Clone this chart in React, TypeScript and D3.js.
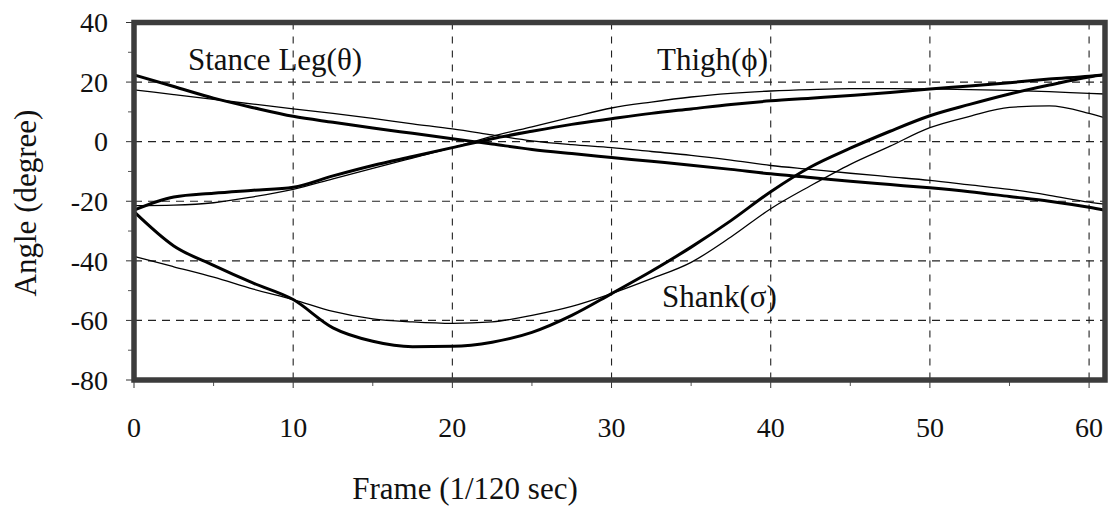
import React from 'react';
import * as d3 from 'd3';

// frame numbers (1/120 sec)
const frames = [0, 2.5, 5, 7.5, 10, 12.5, 15, 17.5, 20, 22.5, 25, 27.5, 30, 32.5, 35, 37.5, 40, 42.5, 45, 47.5, 50, 52.5, 55, 57.5, 60, 61];

// thick = measured, thin = model (angles in degrees)
const stanceThick = [22.4, 18.5, 14.6, 11.4, 8.5, 6.5, 4.6, 2.8, 1.0, -0.8, -2.6, -4.0, -5.3, -6.6, -7.9, -9.3, -10.8, -12, -13.3, -14.4, -15.5, -16.8, -18.4, -20, -22, -23];
const stanceThin = [17.4, 15.8, 14.2, 12.6, 11, 9.5, 7.8, 6, 4.3, 2.3, 0.3, -1, -2, -3.3, -4.6, -6.2, -8, -9.3, -10.6, -11.8, -13, -14.5, -16, -18, -20.3, -21];
const thighThick = [-23, -18.6, -17.3, -16.3, -15.3, -11.5, -8, -5, -2, 1, 3.5, 5.8, 7.7, 9.5, 11, 12.5, 13.7, 14.6, 15.5, 16.5, 17.7, 18.7, 19.8, 21, 22, 22.5];
const thighThin = [-21.5, -21.3, -20.5, -18.5, -16, -12.5, -9, -5.5, -2, 1.8, 5, 8.2, 11.3, 13.3, 15, 16.2, 17, 17.5, 17.8, 17.8, 17.7, 17.5, 17.2, 16.8, 16.2, 16];
const shankThick = [-23.5, -35, -41.5, -47.5, -53, -62.5, -67, -68.8, -68.7, -67.3, -64, -58.3, -51, -43.5, -35.4, -26.5, -16.8, -8.5, -2.2, 3.5, 8.7, 12.5, 16, 19, 21.7, 22.5];
const shankThin = [-38.5, -42, -45.5, -49.5, -53, -57, -59.5, -60.5, -61, -60.5, -58.3, -55.3, -51, -46, -40.5, -32, -22.5, -14.8, -7.6, -1.5, 4.7, 8.5, 11.5, 12, 9.5, 8];

const xTicks = [0, 10, 20, 30, 40, 50, 60];
const xMinor = [5, 15, 25, 35, 45, 55];
const yTicks = [40, 20, 0, -20, -40, -60, -80];
const yMinor = [30, 10, -10, -30, -50, -70];

const serif = { fontFamily: 'Liberation Serif, DejaVu Serif, serif' };

export default function App() {
  const x = d3.scaleLinear().domain([0, 61]).range([134, 1105]);
  const y = d3.scaleLinear().domain([-80, 40]).range([380, 22.5]);

  const line = (vals: number[]) =>
    d3.line<number>()
      .x((_, i) => x(frames[i]))
      .y((d) => y(d))
      .curve(d3.curveMonotoneX)(vals) || '';

  const series = [
    { v: stanceThick, w: 3 },
    { v: stanceThin, w: 1.3 },
    { v: thighThick, w: 3 },
    { v: thighThin, w: 1.3 },
    { v: shankThick, w: 3 },
    { v: shankThin, w: 1.3 },
  ];

  const [x0, x1] = x.range();
  const [y0, y1] = y.range();

  return (
    <svg width={1108} height={507} style={{ position: 'absolute', left: 0, top: 0, background: '#fff' }}>
      {/* grid */}
      {xTicks.filter((t) => t > 0).map((t) => (
        <line key={'gx' + t} x1={x(t)} x2={x(t)} y1={y1} y2={y0} stroke="#222" strokeWidth={1.1} strokeDasharray="7,7" />
      ))}
      {yTicks.filter((t) => t < 40 && t > -80).map((t) => (
        <line key={'gy' + t} x1={x0} x2={x1} y1={y(t)} y2={y(t)} stroke="#222" strokeWidth={1.1} strokeDasharray="8,6" />
      ))}

      {/* ticks */}
      {yTicks.map((t) => (
        <line key={'ty' + t} x1={x0 - 8} x2={x0} y1={y(t)} y2={y(t)} stroke="#333" strokeWidth={1} />
      ))}
      {yMinor.map((t) => (
        <line key={'my' + t} x1={x0 - 6} x2={x0} y1={y(t)} y2={y(t)} stroke="#555" strokeWidth={1} />
      ))}
      {xTicks.map((t) => (
        <line key={'tx' + t} x1={x(t)} x2={x(t)} y1={y0} y2={y0 + 8} stroke="#333" strokeWidth={1} />
      ))}
      {xMinor.map((t) => (
        <line key={'mx' + t} x1={x(t)} x2={x(t)} y1={y0} y2={y0 + 6} stroke="#555" strokeWidth={1} />
      ))}

      {/* curves */}
      {series.map((s, i) => (
        <path key={i} d={line(s.v)} fill="none" stroke="#000" strokeWidth={s.w} strokeLinejoin="round" />
      ))}

      {/* frame */}
      <rect x={x0} y={y1} width={x1 - x0} height={y0 - y1} fill="none" stroke="#3c3c3c" strokeWidth={5.5} />

      {/* tick labels */}
      {yTicks.map((t) => (
        <text key={'ly' + t} x={108} y={y(t)} dy="0.35em" textAnchor="end" style={serif} fontSize={28} fill="#111">
          {t}
        </text>
      ))}
      {xTicks.map((t) => (
        <text key={'lx' + t} x={x(t)} y={437} textAnchor="middle" style={serif} fontSize={28} fill="#111">
          {t}
        </text>
      ))}

      {/* axis titles */}
      <text x={465} y={499} textAnchor="middle" style={serif} fontSize={31} fill="#111">
        Frame (1/120 sec)
      </text>
      <text transform="translate(36,203) rotate(-90)" textAnchor="middle" style={serif} fontSize={31} fill="#111">
        Angle (degree)
      </text>

      {/* curve labels */}
      <text x={188} y={70} style={serif} fontSize={31} fill="#111">Stance Leg(θ)</text>
      <text x={657} y={70} style={serif} fontSize={31} fill="#111">Thigh(ϕ)</text>
      <text x={662} y={307} style={serif} fontSize={31} fill="#111">Shank(σ)</text>
    </svg>
  );
}
